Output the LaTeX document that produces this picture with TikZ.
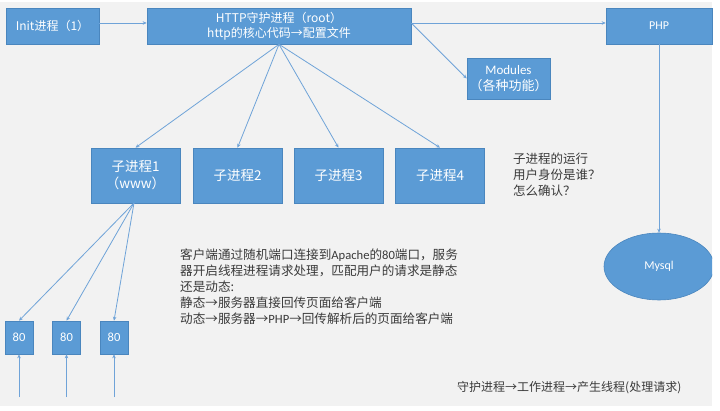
\documentclass[tikz,border=0pt]{standalone}
\usepackage{fontspec}
\setmainfont{Noto Sans CJK SC}
\newfontfamily\cjk{Noto Sans CJK SC}
\newfontfamily\lat{Carlito}
\usetikzlibrary{arrows.meta,shapes.geometric}
\definecolor{boxfill}{HTML}{5B9BD5}
\definecolor{boxline}{HTML}{4A86BE}
\definecolor{linec}{HTML}{6FA3D8}
\definecolor{bgc}{HTML}{F2F2F2}
\definecolor{txt}{HTML}{3A3A3A}
\tikzset{
  pbox/.style={rectangle, fill=boxfill, draw=boxline, line width=0.6pt, text=white, align=center, inner sep=0pt, font=\fontsize{12}{15}\selectfont},
  kid/.style={pbox, minimum width=89pt, minimum height=55pt, font=\fontsize{13.5}{17}\selectfont},
  port/.style={pbox, minimum width=28pt, minimum height=33pt, font=\lat\fontsize{12.5}{15}\selectfont},
  conn/.style={draw=linec, line width=0.8pt, -{Stealth[length=4pt,width=3.5pt]}},
  note/.style={text=txt, align=left, inner sep=0pt, anchor=north west}
}
\begin{document}
\begin{tikzpicture}[x=1pt,y=-1pt]
\fill[white] (0,0) rectangle (720,411);
\fill[bgc] (0,2) rectangle (712,406);
\useasboundingbox (0,0) rectangle (720,411);

\node[pbox, minimum width=93pt, minimum height=36pt] (init) at (52.5,26) {Init进程（1）};
\node[pbox, minimum width=264pt, minimum height=36pt] (http) at (279,26) {HTTP守护进程（root）\\http的核心代码→配置文件};
\node[pbox, minimum width=106pt, minimum height=36pt, font=\lat\fontsize{12}{15}\selectfont] (php) at (659,26) {PHP};
\node[pbox, minimum width=83pt, minimum height=41pt, font=\fontsize{13}{16}\selectfont] (mod) at (508.5,78.5) {{\lat Modules}\\（各种功能）};

\node[kid] (c1) at (135.5,175.5) {子进程1\\（www）};
\node[kid] (c2) at (237.5,175.5) {子进程2};
\node[kid] (c3) at (338.5,175.5) {子进程3};
\node[kid] (c4) at (440,175.5) {子进程4};

\begin{scope}
\clip (0,0) rectangle (712,411);
\node[pbox, ellipse, minimum width=110pt, minimum height=67pt, font=\lat\fontsize{12}{15}\selectfont] (mysql) at (659,266.5) {Mysql};
\end{scope}

\node[port] (p1) at (19,337.5) {80};
\node[port] (p2) at (66.5,337.5) {80};
\node[port] (p3) at (114,337.5) {80};

\coordinate (b1) at (19,397);
\coordinate (b2) at (66.5,397);
\coordinate (b3) at (114,397);
\coordinate (c1b) at (134,203);

% connectors
\draw[conn] ([yshift=3pt]init.east) -- ([yshift=3pt]http.west);
\draw[conn] ([yshift=3pt]http.east) -- ([yshift=3pt]php.west);
\draw[conn] ([yshift=3pt]http.east) -- (mod.west);
\draw[conn] (http.south) -- (c1.north);
\draw[conn] (http.south) -- (c2.north);
\draw[conn] (http.south) -- (c3.north);
\draw[conn] (http.south) -- (c4.north);
\draw[conn] (php.south) -- (mysql.north);
\draw[conn] (c1b) -- (p1.north);
\draw[conn] (c1b) -- (p2.north);
\draw[conn] (c1b) -- (p3.north);
\draw[conn] (b1) -- (p1.south);
\draw[conn] (b2) -- (p2.south);
\draw[conn] (b3) -- (p3.south);

% notes
\node[note, font=\fontsize{12.5}{16}\selectfont] (q) at (513,153) {子进程的运行\\用户身份是谁？\\怎么确认？};
\node[note, font=\fontsize{12.6}{15.9}\selectfont] (expl) at (180,249) {客户端通过随机端口连接到{\lat Apache}的{\lat 80}端口，服务\\器开启线程进程请求处理，匹配用户的请求是静态\\还是动态:\\静态→服务器直接回传页面给客户端\\动态→服务器→{\lat PHP}→回传解析后的页面给客户端};
\node[note, anchor=west, font=\fontsize{12}{15}\selectfont] (foot) at (457,388) {守护进程→工作进程→产生线程(处理请求)};
\end{tikzpicture}
\end{document}
